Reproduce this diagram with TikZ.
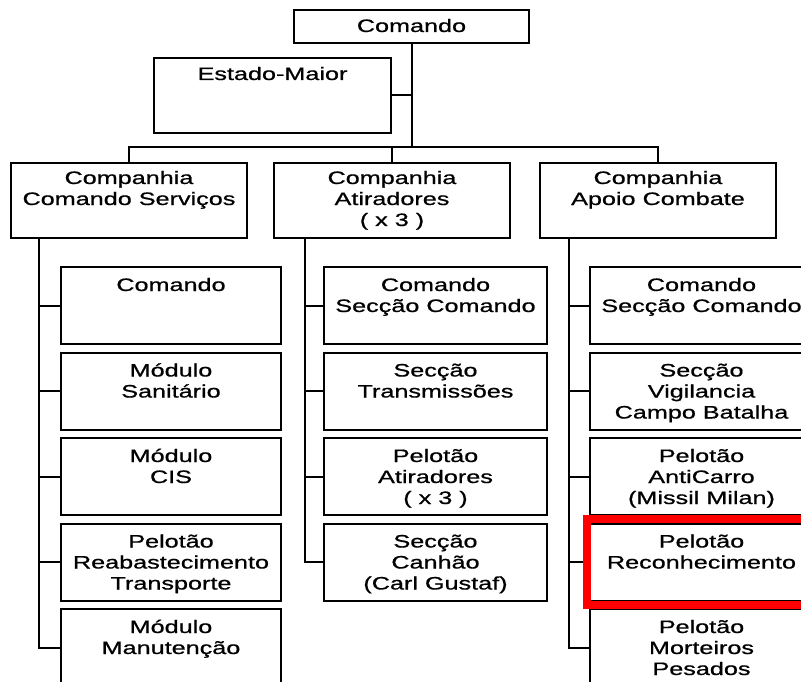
\documentclass[tikz,border=0pt]{standalone}
\usepackage{fontspec}
\setmainfont{Liberation Sans}[FakeStretch=1.4,FakeBold=0.8]
\usepackage{tikz}
\newcommand{\boxtext}[4]{\parbox[c][#2][t]{#1}{\centering\rule{0pt}{#3}#4}}
\begin{document}
\begin{tikzpicture}
    [
    x=1pt,y=-1pt,
    unit/.style = {draw,line width=2pt,inner sep=0pt,outer sep=0pt,anchor=north west,font=\fontsize{18pt}{21pt}\selectfont},
    link/.style = {line width=2pt},
    mark red/.style = {draw=red,line width=8pt}
    ]
\useasboundingbox (0,0) rectangle (801,682);
\clip (0,0) rectangle (801,682);

\node[unit] (cmd) at (294,10) {\boxtext{235pt}{33pt}{22pt}{Comando}};
\node[unit] (em) at (154,58) {\boxtext{237pt}{75pt}{22pt}{Estado-Maior}};

\node[unit] (cs) at (11,163) {\boxtext{236pt}{75pt}{21pt}{Companhia\\Comando Serviços}};
\node[unit] (ca) at (274,163) {\boxtext{236pt}{75pt}{21pt}{Companhia\\Atiradores\\( x 3 )}};
\node[unit] (cac) at (540,163) {\boxtext{236pt}{75pt}{21pt}{Companhia\\Apoio Combate}};

% Companhia Comando Servicos
\node[unit] (cs1) at (61,267) {\boxtext{220pt}{77pt}{24pt}{Comando}};
\node[unit] (cs2) at (61,352.5) {\boxtext{220pt}{77pt}{24pt}{Módulo\\Sanitário}};
\node[unit] (cs3) at (61,438) {\boxtext{220pt}{77pt}{24pt}{Módulo\\CIS}};
\node[unit] (cs4) at (61,523.5) {\boxtext{220pt}{77pt}{24pt}{Pelotão\\Reabastecimento\\Transporte}};
\node[unit] (cs5) at (61,609) {\boxtext{220pt}{77pt}{24pt}{Módulo\\Manutenção}};

% Companhia Atiradores
\node[unit] (ca1) at (324,267) {\boxtext{223pt}{77pt}{24pt}{Comando\\Secção Comando}};
\node[unit] (ca2) at (324,352.5) {\boxtext{223pt}{77pt}{24pt}{Secção\\Transmissões}};
\node[unit] (ca3) at (324,438) {\boxtext{223pt}{77pt}{24pt}{Pelotão\\Atiradores\\( x 3 )}};
\node[unit] (ca4) at (324,523.5) {\boxtext{223pt}{77pt}{24pt}{Secção\\Canhão\\(Carl Gustaf)}};

% Companhia Apoio Combate
\node[unit] (cac1) at (590,267) {\boxtext{223pt}{77pt}{24pt}{Comando\\Secção Comando}};
\node[unit] (cac2) at (590,352.5) {\boxtext{223pt}{77pt}{24pt}{Secção\\Vigilancia\\Campo Batalha}};
\node[unit] (cac3) at (590,438) {\boxtext{223pt}{77pt}{24pt}{Pelotão\\AntiCarro\\(Missil Milan)}};
\node[unit] (cac4) at (590,523.5) {\boxtext{223pt}{77pt}{24pt}{Pelotão\\Reconhecimento}};
\node[unit] (cac5) at (590,609) {\boxtext{223pt}{77pt}{24pt}{Pelotão\\Morteiros\\Pesados}};

\coordinate (bus) at (411.5,147);
\draw[link] (cmd.south) -- (bus);
\draw[link] (em.east) -- (em.east -| cmd.south);
\draw[link] (cs.north) |- (bus) -| (cac.north);
\draw[link] (ca.north) -- (ca.north |- bus);

\coordinate (cst) at (39,238);
\draw[link] (cst) |- (cs5.west);
\foreach \n in {1,...,4}
  \draw[link] (cs\n.west -| cst) -- (cs\n.west);

\coordinate (cat) at (305,238);
\draw[link] (cat) |- (ca4.west);
\foreach \n in {1,...,3}
  \draw[link] (ca\n.west -| cat) -- (ca\n.west);

\coordinate (cact) at (569,238);
\draw[link] (cact) |- (cac5.west);
\foreach \n in {1,...,4}
  \draw[link] (cac\n.west -| cact) -- (cac\n.west);

\draw[mark red] ([shift={(-3.5,-4.5)}]cac4.north west) rectangle ([shift={(4.5,4.5)}]cac4.south east);

\end{tikzpicture}
\end{document}
